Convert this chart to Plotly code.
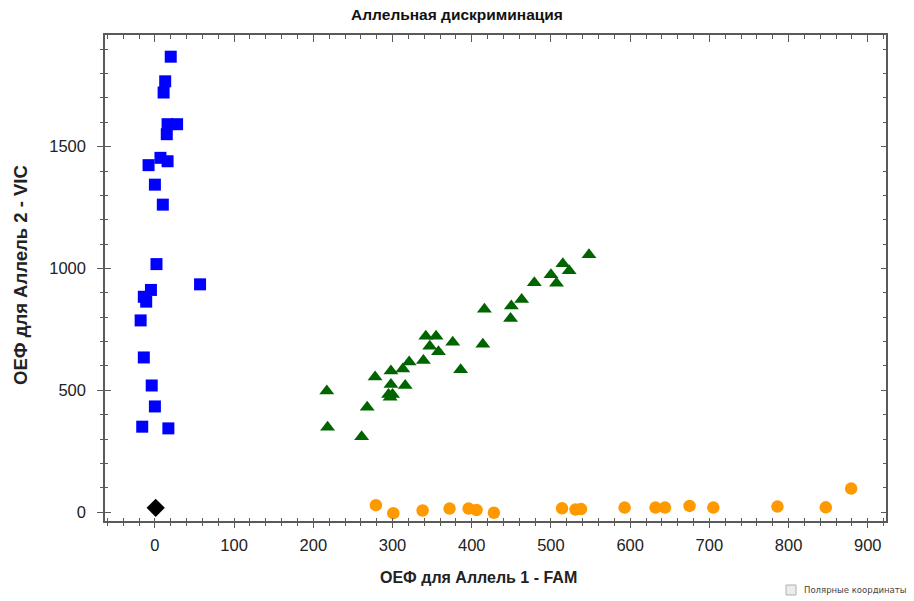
import plotly.graph_objects as go

# Allele 2 homozygotes (VIC) - blue squares
vic_x = [20, 13, 11, 16, 28, 15, 7, 16, -8, 0, 10, 2, 57, -5, -14, -11, -18, -14, -4, 0, -16, 17]
vic_y = [1869, 1768, 1722, 1592, 1592, 1551, 1454, 1440, 1424, 1344, 1262, 1018, 935, 912, 884, 864, 787, 635, 520, 434, 351, 344]

# Heterozygotes - green triangles
het_x = [278, 217, 268, 218, 261, 548, 515, 523, 500, 507, 479, 463, 450, 449, 416, 414, 386, 376,
         355, 342, 347, 358, 339, 321, 313, 298, 316, 298, 295, 300, 297]
het_y = [555, 497, 431, 349, 310, 1056, 1019, 991, 974, 939, 942, 873, 846, 795, 833, 689, 585, 697,
         722, 722, 681, 658, 623, 616, 588, 579, 520, 524, 483, 483, 472]

# Allele 1 homozygotes (FAM) - orange circles
fam_x = [279, 301, 338, 372, 396, 406, 428, 514, 531, 538, 593, 632, 644, 675, 705, 786, 847, 879]
fam_y = [29, -4, 7, 15, 15, 9, -2, 16, 11, 13, 19, 19, 19, 26, 19, 23, 20, 97]

# No template control - black diamond
ntc_x = [1]
ntc_y = [18]

x_range = [-63, 923]
y_range = [-36, 1958]

title_text = "Аллельная дискриминация"
x_title = "ОЕФ для Аллель 1 - FAM"
y_title = "ОЕФ для Аллель 2 - VIC"
polar_text = "Полярные координаты"

axis_color = "#5a5a5a"
tick_font = dict(family="Liberation Sans, Arial, sans-serif", size=16.5, color="#222222")

fig = go.Figure()
fig.add_trace(go.Scatter(x=vic_x, y=vic_y, mode="markers", xaxis="x", yaxis="y",
                         marker=dict(symbol="square", size=12, color="#0000FF", line=dict(width=0))))
fig.add_trace(go.Scatter(x=het_x, y=het_y, mode="markers", xaxis="x2", yaxis="y2",
                         marker=dict(symbol="triangle-up", size=13, color="#006400", line=dict(width=0))))
fig.add_trace(go.Scatter(x=fam_x, y=fam_y, mode="markers", xaxis="x3", yaxis="y3",
                         marker=dict(symbol="circle", size=12.5, color="#FF9900", line=dict(width=0))))
fig.add_trace(go.Scatter(x=ntc_x, y=ntc_y, mode="markers", xaxis="x", yaxis="y",
                         marker=dict(symbol="diamond", size=14, color="#000000", line=dict(width=0))))

common_x = dict(range=x_range, autorange=False, dtick=100, tick0=0, showgrid=False, zeroline=False,
                tickcolor=axis_color)
common_y = dict(range=y_range, autorange=False, dtick=500, tick0=0, showgrid=False, zeroline=False,
                tickcolor=axis_color)

fig.update_layout(
    width=914, height=601,
    margin=dict(l=105, r=28, t=35, b=80),
    paper_bgcolor="white", plot_bgcolor="white",
    showlegend=False,
    title=dict(text=title_text, x=0.5, xanchor="center", y=1 - 15 / 601, yanchor="middle",
               font=dict(family="Liberation Sans Narrow, Arial Narrow, Liberation Sans, sans-serif",
                         size=15.5, color="#111111", weight="bold")),
    xaxis=dict(**common_x, showline=True, linecolor=axis_color, linewidth=1.5,
               ticks="outside", ticklen=5, tickwidth=1.3, tickfont=tick_font, ticklabelstandoff=3,
               minor=dict(dtick=20, ticks="outside", ticklen=3, tickcolor=axis_color, tickwidth=1)),
    xaxis2=dict(**common_x, overlaying="x", anchor="y2", side="bottom", showline=False,
                ticks="inside", ticklen=3, tickwidth=1.3, showticklabels=False,
                minor=dict(dtick=20, ticks="inside", ticklen=3, tickcolor=axis_color, tickwidth=1)),
    xaxis3=dict(**common_x, overlaying="x", anchor="y3", side="top", showline=True,
                linecolor=axis_color, linewidth=1.5,
                ticks="inside", ticklen=7, tickwidth=1.3, showticklabels=False,
                minor=dict(dtick=20, ticks="inside", ticklen=4, tickcolor=axis_color, tickwidth=1)),
    yaxis=dict(**common_y, showline=True, linecolor=axis_color, linewidth=1.5,
               ticks="outside", ticklen=6, tickwidth=1.3, tickfont=tick_font, ticklabelstandoff=8,
               minor=dict(dtick=100, ticks="outside", ticklen=3, tickcolor=axis_color, tickwidth=1)),
    yaxis2=dict(**common_y, overlaying="y", anchor="x2", side="left", showline=False,
                ticks="inside", ticklen=6, tickwidth=1.3, showticklabels=False,
                minor=dict(dtick=100, ticks="inside", ticklen=3, tickcolor=axis_color, tickwidth=1)),
    yaxis3=dict(**common_y, overlaying="y", anchor="x3", side="right", showline=True,
                linecolor=axis_color, linewidth=1.5,
                ticks="inside", ticklen=5, tickwidth=1.3, showticklabels=False,
                minor=dict(dtick=100, ticks="inside", ticklen=3, tickcolor=axis_color, tickwidth=1)),
)

fig.add_annotation(text=x_title, xref="paper", yref="paper", x=0.4776, y=-(577 - 521) / 486,
                   xanchor="center", yanchor="middle", showarrow=False,
                   font=dict(family="Liberation Sans, Arial, sans-serif", size=16, color="#222222",
                             weight="bold"))
fig.add_annotation(text=y_title, xref="paper", yref="paper", x=-(105 - 20) / 781,
                   y=(521 - 275) / 486,
                   xanchor="center", yanchor="middle", showarrow=False, textangle=-90,
                   font=dict(family="Liberation Sans, Arial, sans-serif", size=18.5, color="#222222",
                             weight="bold"))

# "Polar coordinates" checkbox in the bottom-right corner
fig.add_shape(type="rect", xref="paper", yref="paper",
              x0=(786 - 105) / 781, x1=(796 - 105) / 781,
              y0=-(595 - 521) / 486, y1=-(585 - 521) / 486,
              line=dict(color="#b0b0b0", width=1), fillcolor="#ececec")
fig.add_annotation(text=polar_text, xref="paper", yref="paper", x=(802 - 105) / 781,
                   y=-(590 - 521) / 486, xanchor="left", yanchor="middle", showarrow=False,
                   font=dict(family="DejaVu Sans, Liberation Sans, sans-serif", size=8.5,
                             color="#444444"))

fig.write_html("out.html", config={"displayModeBar": False},
               post_script="document.body.style.margin='0';document.body.style.overflow='hidden';")
